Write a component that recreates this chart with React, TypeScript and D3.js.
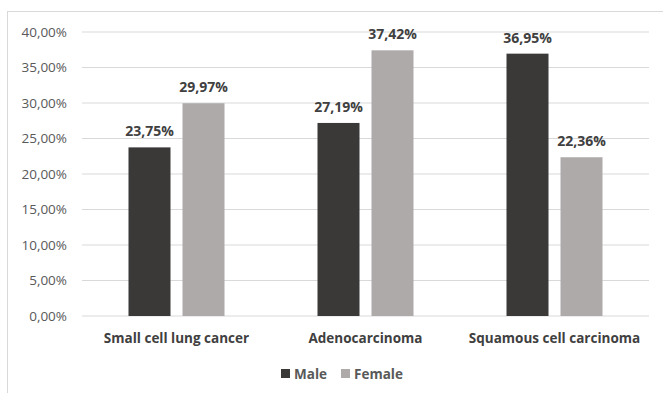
import React from "react";
import * as d3 from "d3";

const categories = ["Small cell lung cancer", "Adenocarcinoma", "Squamous cell carcinoma"];
const seriesNames = ["Male", "Female"];
const maleValues = [23.75, 27.19, 36.95];
const femaleValues = [29.97, 37.42, 22.36];
const yTicks = [0, 5, 10, 15, 20, 25, 30, 35, 40];
const colors = ["#3b3838", "#aeaaaa"];

const W = 663;
const H = 393;
const margin = { left: 82, right: 14, top: 32, bottom: 77 };

const fmt = (v: number) => v.toFixed(2).replace(".", ",") + "%";

export default function App() {
  const plotW = W - margin.left - margin.right;
  const x0 = d3.scaleBand<string>().domain(categories).range([margin.left, margin.left + plotW]).paddingInner(0).paddingOuter(0);
  const y = d3.scaleLinear().domain([0, 40]).range([H - margin.bottom, margin.top]);
  const groupW = 96;
  const x1 = d3.scaleBand<string>().domain(seriesNames).range([0, groupW]).paddingInner(12 / 54).paddingOuter(0);
  const series = [maleValues, femaleValues];
  const font = "'Open Sans', 'DejaVu Sans', sans-serif";
  return (
    <svg width={W} height={H} style={{ position: "absolute", left: 0, top: 0, background: "#fff" }} fontFamily={font}>
      <rect x={7.5} y={11.5} width={W} height={H} fill="#fff" stroke="#d9d9d9" />
      {yTicks.map((t) => (
        <g key={t}>
          <line x1={margin.left} x2={margin.left + plotW} y1={y(t)} y2={y(t)} stroke="#d9d9d9" strokeWidth={1} />
          <text x={67} y={y(t)} dy="0.35em" textAnchor="end" fontSize={13.5} fill="#595959">{fmt(t)}</text>
        </g>
      ))}
      {categories.map((c, i) => {
        const gx = (x0(c) as number) + (x0.bandwidth() - groupW) / 2;
        return (
          <g key={c}>
            {seriesNames.map((s, j) => {
              const v = series[j][i];
              const bx = gx + (x1(s) as number);
              return (
                <g key={s}>
                  <rect x={bx} y={y(v)} width={x1.bandwidth()} height={y(0) - y(v)} fill={colors[j]} />
                  <text x={bx + x1.bandwidth() / 2} y={y(v) - 11} textAnchor="middle" fontSize={14} fontWeight="bold" fill="#404040">{fmt(v)}</text>
                </g>
              );
            })}
            <text x={(x0(c) as number) + x0.bandwidth() / 2} y={343} textAnchor="middle" fontSize={13.5} fontWeight="bold" fill="#404040">{c}</text>
          </g>
        );
      })}
      <g>
        <rect x={281} y={369} width={9} height={9} fill={colors[0]} />
        <text x={294} y={378.5} fontSize={13.5} fontWeight="bold" fill="#595959">{seriesNames[0]}</text>
        <rect x={341} y={369} width={9} height={9} fill={colors[1]} />
        <text x={354} y={378.5} fontSize={13.5} fontWeight="bold" fill="#595959">{seriesNames[1]}</text>
      </g>
    </svg>
  );
}
